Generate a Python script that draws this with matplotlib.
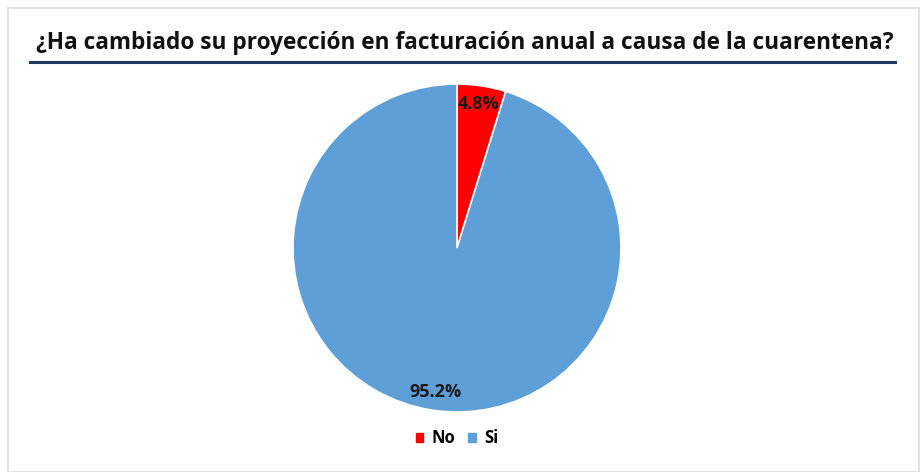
import matplotlib
matplotlib.use("Agg")
import matplotlib.pyplot as plt
from matplotlib.patches import Rectangle
from matplotlib.lines import Line2D
from matplotlib import font_manager

categories = ["No", "Si"]
values = [4.8, 95.2]
colors = ["#FF0000", "#5F9FD7"]
title = "¿Ha cambiado su proyección en facturación anual a causa de la cuarentena?"

names = {f.name for f in font_manager.fontManager.ttflist}
fam = "Liberation Sans Narrow" if "Liberation Sans Narrow" in names else "Open Sans"
plt.rcParams['font.family'] = [fam, 'DejaVu Sans']

W, H = 923, 472
fig = plt.figure(figsize=(W/100, H/100), dpi=100)
fig.patch.set_facecolor("white")

# faint frame
fig.add_artist(Rectangle((8/W, 0), (W-8-4)/W, (H-8)/H, transform=fig.transFigure,
                         fill=False, edgecolor="#dcdcdc", linewidth=1.2))

fig.text(36/W, 1-43/H, title, fontsize=16.3, fontweight="bold", color="#111111",
         va="center", ha="left")
fig.add_artist(Line2D([30/W, 895/W], [1-62/H, 1-62/H], color="#1F3864", linewidth=2.2))

cx, cy, r = 457, 248, 164
ax = fig.add_axes([(cx-r)/W, (H-cy-r)/H, 2*r/W, 2*r/H])
wedges, texts, autotexts = ax.pie(values, colors=colors, startangle=90, counterclock=False,
                                  autopct="%.1f%%", pctdistance=0.89,
                                  wedgeprops=dict(edgecolor="white", linewidth=1.2),
                                  textprops=dict(fontsize=13, fontweight="bold", color="#1a1a1a"))
ax.set_xlim(-1, 1)
ax.set_ylim(-1, 1)
ax.set_aspect("equal")
ax.axis("off")

handles = [Rectangle((0, 0), 1, 1, color=c) for c in colors]
fig.legend(handles, categories, loc="center", bbox_to_anchor=(457/W, 1-438/H), ncol=2,
           frameon=False, handlelength=0.45, handleheight=0.45, handletextpad=0.5,
           columnspacing=0.8, prop=dict(size=12, weight="bold"))

fig.savefig("out.png", dpi=100, facecolor="white")
